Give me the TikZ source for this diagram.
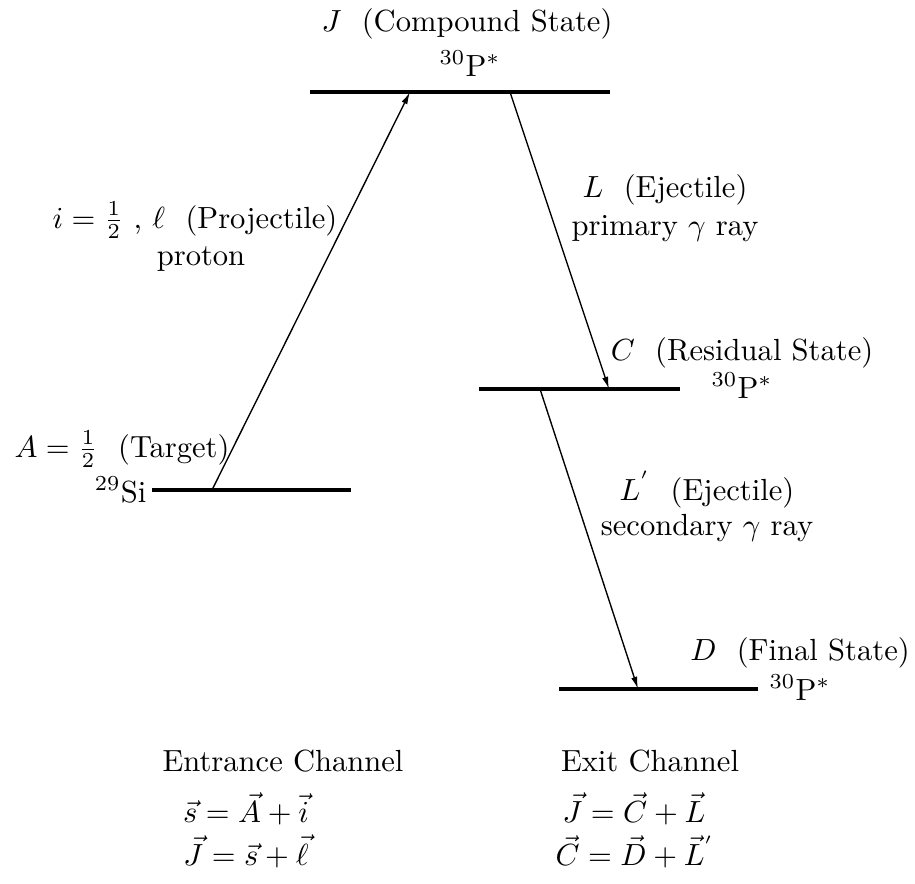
\documentclass[tikz,border=0pt]{standalone}
\usetikzlibrary{arrows.meta}
\begin{document}
\begin{tikzpicture}[x=0.327pt,y=-0.327pt,
  level/.style={line width=1pt},
  trans/.style={line width=0.45pt,-{Latex[length=4pt,width=2pt]}},
  lbl/.style={inner sep=0pt,anchor=base}]
\useasboundingbox (0,0) rectangle (915,883);
% energy levels
\coordinate (J1) at (310,92);  \coordinate (J2) at (610,92);
\coordinate (A1) at (152,490); \coordinate (A2) at (351,490);
\coordinate (C1) at (479,389); \coordinate (C2) at (680,389);
\coordinate (D1) at (559,689); \coordinate (D2) at (758,689);
\draw[level] (J1) -- (J2);
\draw[level] (A1) -- (A2);
\draw[level] (C1) -- (C2);
\draw[level] (D1) -- (D2);
% transitions
\coordinate (pIn) at (212,490);  \coordinate (pOut) at (410,92);
\coordinate (gA) at (510,92);    \coordinate (gB) at (609,389);
\coordinate (gC) at (540,389);   \coordinate (gD) at (638,689);
\draw[trans] (pIn) -- (pOut);
\draw[trans] (gA) -- (gB);
\draw[trans] (gC) -- (gD);
% labels
\node[lbl] (tJ) at (467,31) {$J$\ \ (Compound State)};
\node[lbl] (tJn) at (470,76) {$^{30}$P$^*$};
\node[lbl] (tP) at (195,228) {$i=\frac{1}{2}$ , $\ell$\ \ (Projectile)};
\node[lbl] (tPn) at (201,265) {proton};
\node[lbl] (tL) at (665,197) {$L$\ \ (Ejectile)};
\node[lbl] (tLn) at (665,235) {primary $\gamma$ ray};
\node[lbl] (tC) at (742,360) {$C$\ \ (Residual State)};
\node[lbl] (tCn) at (742,398) {$^{30}$P$^*$};
\node[lbl] (tA) at (122,457) {$A=\frac{1}{2}$\ \ (Target)};
\node[lbl,anchor=base east] (tAn) at (147,502) {$^{29}$Si};
\node[lbl] (tLp) at (707,500) {$L^{'}$\ \ (Ejectile)};
\node[lbl] (tLpn) at (707,535) {secondary $\gamma$ ray};
\node[lbl] (tD) at (800,660) {$D$\ \ (Final State)};
\node[lbl] (tDn) at (800,700) {$^{30}$P$^*$};
\node[lbl] (en) at (283,771) {Entrance Channel};
\node[lbl] (ex) at (650,771) {Exit Channel};
\node[lbl] (e1) at (246,822) {$\vec{s}=\vec{A}+\vec{i}$};
\node[lbl] (e2) at (246,865) {$\vec{J}=\vec{s}+\vec{\ell}$};
\node[lbl] (x1) at (634,822) {$\vec{J}=\vec{C}+\vec{L}$};
\node[lbl] (x2) at (635,865) {$\vec{C}=\vec{D}+\vec{L}^{'}$};
\end{tikzpicture}
\end{document}
